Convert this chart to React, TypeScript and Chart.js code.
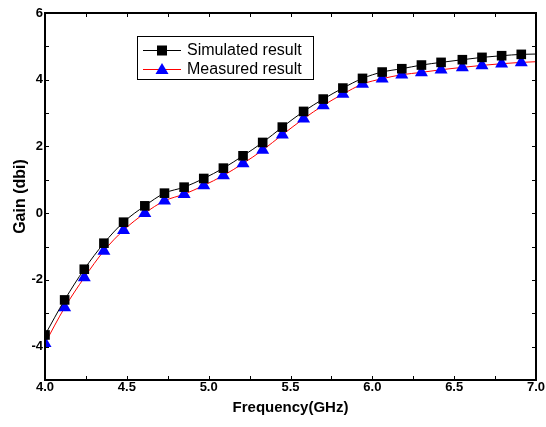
import React, { useEffect, useRef } from 'react';
import { Chart, registerables } from 'chart.js';

Chart.register(...registerables);

// ---- data ----
const frequencies = [4.0, 4.12, 4.24, 4.36, 4.48, 4.61, 4.73, 4.85, 4.97, 5.09, 5.21, 5.33, 5.45, 5.58, 5.7, 5.82, 5.94, 6.06, 6.18, 6.3, 6.42, 6.55, 6.67, 6.79, 6.91, 7.0];
const simulated = [-3.65, -2.6, -1.68, -0.9, -0.27, 0.22, 0.6, 0.78, 1.04, 1.35, 1.72, 2.12, 2.58, 3.05, 3.42, 3.75, 4.04, 4.23, 4.33, 4.44, 4.52, 4.6, 4.67, 4.72, 4.76, 4.77];
const measured = [-3.9, -2.83, -1.93, -1.13, -0.51, 0.0, 0.37, 0.57, 0.83, 1.13, 1.49, 1.89, 2.35, 2.83, 3.23, 3.57, 3.87, 4.03, 4.15, 4.22, 4.3, 4.37, 4.43, 4.48, 4.52, 4.54];
const seriesNames = ['Simulated result', 'Measured result'];
const xTickValues = [4.0, 4.5, 5.0, 5.5, 6.0, 6.5, 7.0];
const xMinorTickValues = [4.0, 4.25, 4.5, 4.75, 5.0, 5.25, 5.5, 5.75, 6.0, 6.25, 6.5, 6.75, 7.0];
const yTickValues = [-4, -2, 0, 2, 4, 6];
const yMinorTickValues = [-5, -4, -3, -2, -1, 0, 1, 2, 3, 4, 5, 6];
const xRange = [4, 7];
const yRange = [-5, 6];
const xTitle = 'Frequency(GHz)';
const yTitle = 'Gain (dbi)';

const FONT = 'Arial, "Liberation Sans", Helvetica, sans-serif';

const framePlugin = {
  id: 'frameTicks',
  afterDatasetsDraw(chart: any) {
    const { ctx, chartArea: a, scales } = chart;
    const xs = scales.x;
    const ys = scales.y;
    ctx.save();
    ctx.strokeStyle = '#000';
    ctx.lineWidth = 1;
    const tl = 4;
    ctx.beginPath();
    for (const v of xMinorTickValues) {
      const px = Math.round(xs.getPixelForValue(v)) + 0.5;
      ctx.moveTo(px, a.bottom);
      ctx.lineTo(px, a.bottom - tl);
      ctx.moveTo(px, a.top);
      ctx.lineTo(px, a.top + tl);
    }
    for (const v of yMinorTickValues) {
      const py = Math.round(ys.getPixelForValue(v)) + 0.5;
      ctx.moveTo(a.left, py);
      ctx.lineTo(a.left + tl, py);
      ctx.moveTo(a.right, py);
      ctx.lineTo(a.right - tl, py);
    }
    ctx.stroke();
    ctx.lineWidth = 2;
    ctx.strokeRect(a.left, a.top, a.right - a.left, a.bottom - a.top);
    ctx.restore();
  },
  afterDraw(chart: any) {
    const { ctx } = chart;
    ctx.save();
    // legend box
    const bx = 137, by = 36, bw = 176, bh = 43;
    ctx.fillStyle = '#fff';
    ctx.fillRect(bx, by, bw, bh);
    ctx.strokeStyle = '#000';
    ctx.lineWidth = 1;
    ctx.strokeRect(bx + 0.5, by + 0.5, bw, bh);
    const rows = [
      { y: 50, line: '#000', fill: '#000', shape: 'rect' },
      { y: 69, line: '#ff0000', fill: '#0000ff', shape: 'tri' },
    ];
    rows.forEach((r, i) => {
      ctx.strokeStyle = r.line;
      ctx.lineWidth = 1;
      ctx.beginPath();
      ctx.moveTo(143, r.y + 0.5);
      ctx.lineTo(181, r.y + 0.5);
      ctx.stroke();
      ctx.fillStyle = r.fill;
      const cx = 162;
      if (r.shape === 'rect') {
        ctx.fillRect(cx - 5, r.y - 4.5, 10, 10);
      } else {
        ctx.beginPath();
        ctx.moveTo(cx, r.y - 6);
        ctx.lineTo(cx + 6.5, r.y + 5);
        ctx.lineTo(cx - 6.5, r.y + 5);
        ctx.closePath();
        ctx.fill();
      }
      ctx.fillStyle = '#000';
      ctx.font = `16px ${FONT}`;
      ctx.textBaseline = 'middle';
      ctx.textAlign = 'left';
      ctx.fillText(seriesNames[i], 187, r.y + 1);
    });
    ctx.restore();
  },
};

export default function App() {
  const ref = useRef<HTMLCanvasElement>(null);
  useEffect(() => {
    if (!ref.current) return;
    const lastIdx = frequencies.length - 1;
    const chart = new Chart(ref.current, {
      type: 'line',
      data: {
        datasets: [
          {
            label: seriesNames[0],
            data: frequencies.map((f, i) => ({ x: f, y: simulated[i] })),
            borderColor: '#000',
            backgroundColor: '#000',
            borderWidth: 1,
            pointStyle: 'rect',
            pointRadius: (c: any) => (c.dataIndex === lastIdx ? 0 : 6.8),
            pointBorderWidth: 0,
            pointBackgroundColor: '#000',
            cubicInterpolationMode: 'monotone',
            clip: 1,
          },
          {
            label: seriesNames[1],
            data: frequencies.map((f, i) => ({ x: f, y: measured[i] })),
            borderColor: '#ff0000',
            backgroundColor: '#0000ff',
            borderWidth: 1,
            pointStyle: 'triangle',
            pointRadius: (c: any) => (c.dataIndex === lastIdx ? 0 : 7.5),
            pointBorderWidth: 0,
            pointBackgroundColor: '#0000ff',
            cubicInterpolationMode: 'monotone',
            clip: 1,
          },
        ],
      },
      options: {
        animation: false,
        responsive: false,
        devicePixelRatio: 1,
        layout: { padding: { top: 13, right: 10, left: 0, bottom: 0 } },
        plugins: { legend: { display: false }, tooltip: { enabled: false } },
        scales: {
          x: {
            type: 'linear',
            min: xRange[0],
            max: xRange[1],
            afterBuildTicks: (s: any) => {
              s.ticks = xTickValues.map((v) => ({ value: v }));
            },
            afterFit: (s: any) => {
              s.height = 47;
            },
            grid: { display: false, drawTicks: false },
            border: { display: true, color: '#000', width: 2 },
            ticks: {
              color: '#000',
              padding: 0,
              maxRotation: 0,
              autoSkip: false,
              font: { family: FONT, size: 13, weight: 'bold' },
              callback: (v: any) => Number(v).toFixed(1),
            },
            title: {
              display: true,
              text: xTitle,
              color: '#000',
              font: { family: FONT, size: 15, weight: 'bold' },
              padding: { top: 0, bottom: 10 },
            },
          },
          y: {
            type: 'linear',
            min: yRange[0],
            max: yRange[1],
            afterBuildTicks: (s: any) => {
              s.ticks = yTickValues.map((v) => ({ value: v }));
            },
            afterFit: (s: any) => {
              s.width = 45;
            },
            grid: { display: false, drawTicks: false },
            border: { display: true, color: '#000', width: 2 },
            ticks: {
              color: '#000',
              padding: 2,
              autoSkip: false,
              font: { family: FONT, size: 13, weight: 'bold' },
              callback: (v: any) => String(v),
            },
            title: {
              display: true,
              text: yTitle,
              color: '#000',
              font: { family: FONT, size: 16, weight: 'bold' },
              padding: { top: 11, bottom: 0 },
            },
          },
        },
      },
      plugins: [framePlugin],
    } as any);
    return () => chart.destroy();
  }, []);
  return (
    <div style={{ position: 'absolute', left: 0, top: 0, width: 546, height: 427, background: '#fff' }}>
      <canvas ref={ref} width={546} height={427} style={{ display: 'block' }} />
    </div>
  );
}
